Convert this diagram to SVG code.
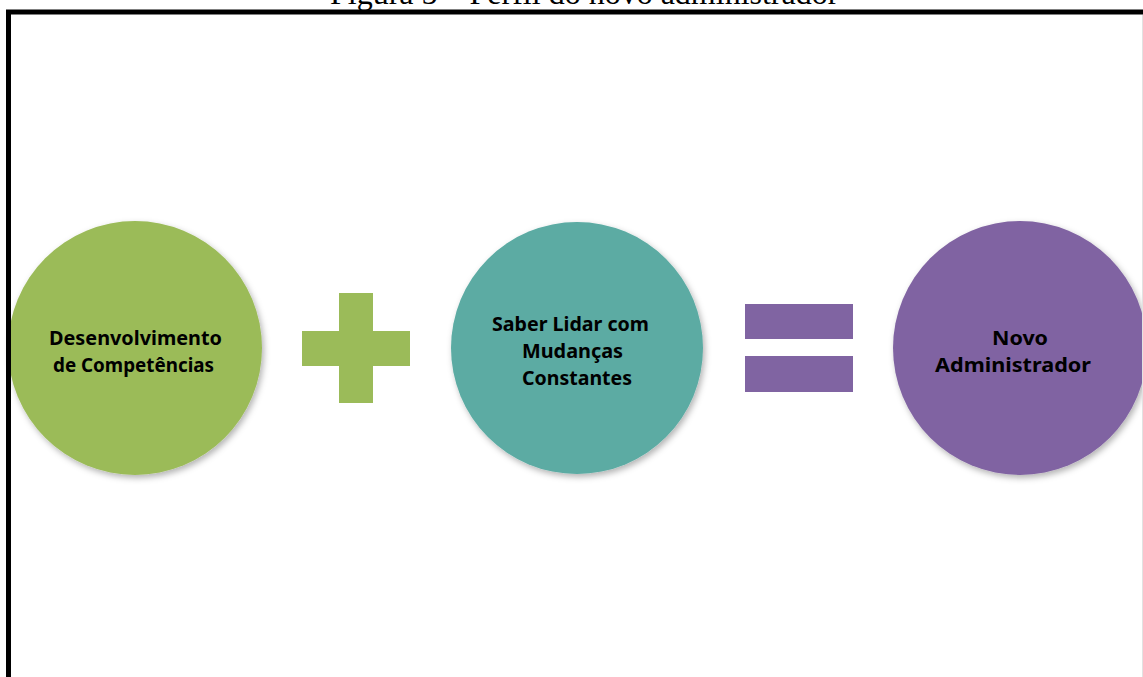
<svg xmlns="http://www.w3.org/2000/svg" width="1143" height="677" viewBox="0 0 1143 677">
  <style>
    .title { font-family: "Liberation Serif", "Times New Roman", serif; font-size: 32px; fill: #000; }
    .label { font-family: "Noto Sans", "Open Sans", sans-serif; font-weight: bold; font-size: 20px; fill: #000; text-anchor: middle; }
    .green { fill: #9BBB59; }
    .teal { fill: #5BABA3; }
    .purple { fill: #8064A2; }
  </style>
  <defs>
    <filter id="soft-shadow" x="-20%" y="-20%" width="140%" height="140%">
      <feDropShadow dx="2" dy="3" stdDeviation="3" flood-color="#000" flood-opacity="0.3"/>
    </filter>
  </defs>

  <rect width="1143" height="677" fill="#fff"/>

  <!-- caption, partly cut off by the top of the page -->
  <text class="title" x="330" y="3.5">Figura 5 – Perfil do novo administrador</text>

  <!-- nodes -->
  <g id="node-competencias">
    <circle class="green" cx="135" cy="348" r="127" filter="url(#soft-shadow)"/>
    <text class="label" x="135.5" y="345" textLength="173" lengthAdjust="spacingAndGlyphs">Desenvolvimento</text>
    <text class="label" x="133.5" y="372" textLength="161" lengthAdjust="spacingAndGlyphs">de Competências</text>
  </g>

  <g id="node-mudancas">
    <circle class="teal" cx="577" cy="348" r="126" filter="url(#soft-shadow)"/>
    <text class="label" x="570.5" y="331" textLength="157" lengthAdjust="spacingAndGlyphs">Saber Lidar com</text>
    <text class="label" x="572.5" y="358" textLength="101" lengthAdjust="spacingAndGlyphs">Mudanças</text>
    <text class="label" x="577" y="384.5" textLength="110" lengthAdjust="spacingAndGlyphs">Constantes</text>
  </g>

  <g id="node-administrador">
    <circle class="purple" cx="1020" cy="348" r="127" filter="url(#soft-shadow)"/>
    <text class="label" x="1020" y="345" textLength="56" lengthAdjust="spacingAndGlyphs">Novo</text>
    <text class="label" x="1013" y="372" textLength="156" lengthAdjust="spacingAndGlyphs">Administrador</text>
  </g>

  <!-- operators between the nodes -->
  <g id="connectors">
    <g id="plus-sign" class="green">
      <rect x="339" y="293" width="34" height="110"/>
      <rect x="302" y="331" width="108" height="35"/>
    </g>
    <g id="equals-sign" class="purple">
      <rect x="745" y="304" width="108" height="35"/>
      <rect x="745" y="356" width="108" height="36"/>
    </g>
  </g>

  <!-- page frame -->
  <path d="M8.5 677 V12 H1143" fill="none" stroke="#000" stroke-width="5"/>
  <line x1="1142.5" y1="15" x2="1142.5" y2="677" stroke="#e2e2e2" stroke-width="1"/>
</svg>
